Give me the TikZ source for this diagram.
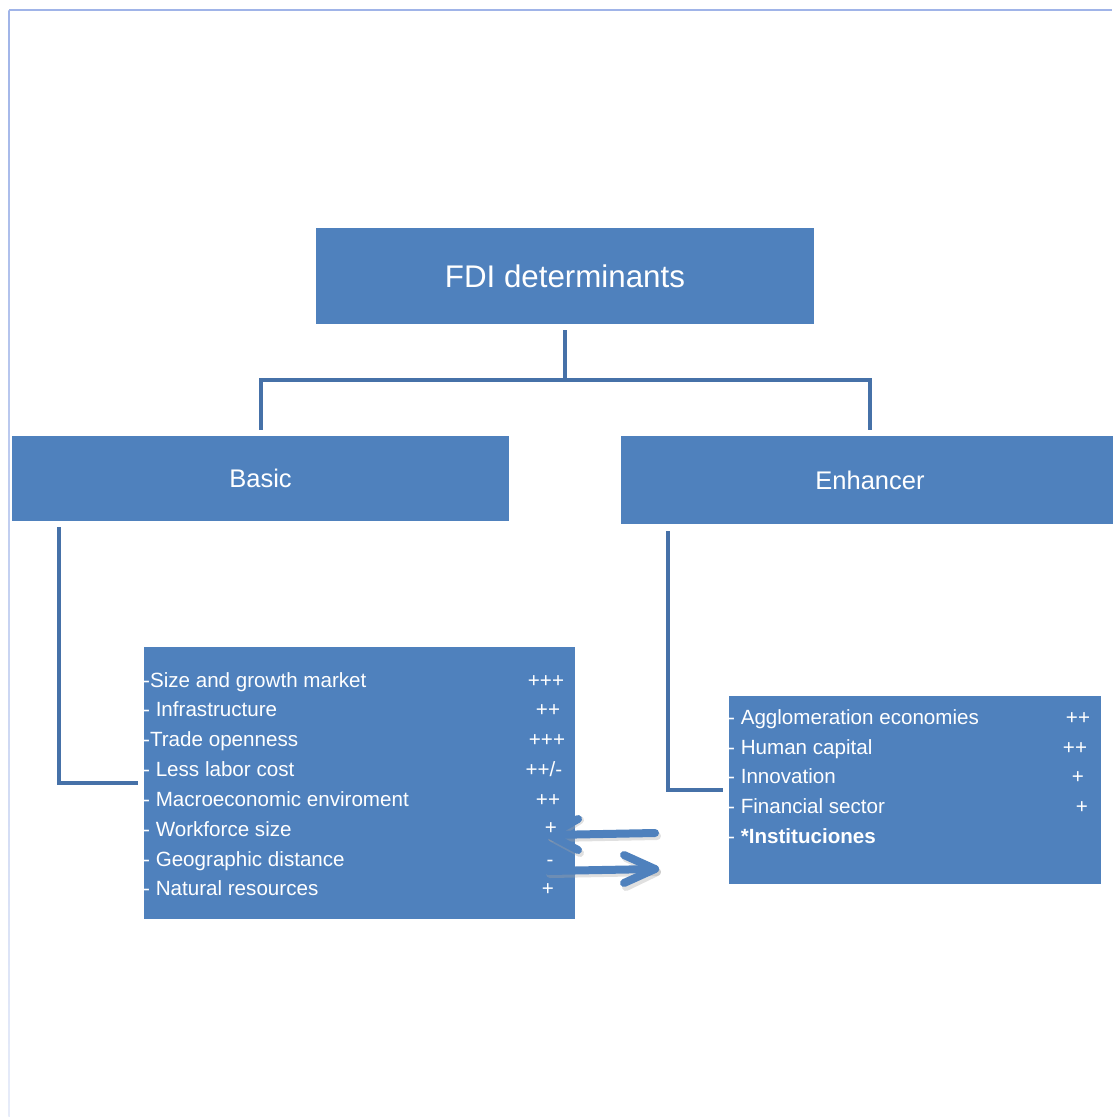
\documentclass[tikz,border=0pt]{standalone}
\usepackage{fontspec}
\setmainfont{Liberation Sans}
\usetikzlibrary{calc}
\definecolor{boxblue}{HTML}{4F81BD}
\definecolor{connblue}{HTML}{4671A8}
\definecolor{framecol}{RGB}{160,180,232}
\tikzset{
  box/.style={fill=boxblue, draw=none, inner sep=0pt, text=white},
  conn/.style={draw=connblue, line width=4pt},
  itemtxt/.style={anchor=base west, inner sep=0pt, text=white, font=\fontsize{20.6}{24}\selectfont},
  signtxt/.style={anchor=base, inner sep=0pt, text=white, font=\fontsize{20.6}{24}\selectfont},
  arrowline/.style={draw=boxblue, line width=8pt, line cap=round, line join=round},
  arrowshadow/.style={draw=black!35, opacity=0.35, line width=8pt, line cap=round, line join=round}
}
\begin{document}
\begin{tikzpicture}[x=1pt,y=-1pt]
\useasboundingbox (0,0) rectangle (1112,1117);
% frame
\draw[framecol, line width=1.5pt] (9,10) -- (1112,10);
\shade[top color=framecol, bottom color=framecol!25] (8.3,10) rectangle (9.8,1117);

% boxes
\node[box, minimum width=498pt, minimum height=96pt, font=\fontsize{31.3}{36}\selectfont] (fdi) at (565,276) {FDI determinants};
\node[box, minimum width=497pt, minimum height=85pt, font=\fontsize{25.5}{30}\selectfont] (basic) at (260.5,478.5) {Basic};
\node[box, minimum width=498pt, minimum height=88pt, font=\fontsize{25.5}{30}\selectfont] (enh) at (870,480) {Enhancer};
\node[box, minimum width=431pt, minimum height=272pt] (left) at (359.5,783) {};
\node[box, minimum width=372pt, minimum height=188pt] (right) at (915,790) {};

% connectors
\draw[conn] ($(fdi.south)+(0,6)$) -- ++(0,50) coordinate (mid) -| ($(basic.north)+(0,-6)$);
\draw[conn] (mid) -| ($(enh.north)+(0,-6)$);
\draw[conn] ($(basic.south west)+(47,6)$) |- ($(left.west)+(-6,0)$);
\draw[conn] ($(enh.south west)+(47,7)$) |- ($(right.west)+(-6,0)$);

% arrows
\coordinate (a1s) at (655,833);
\coordinate (a1e) at (550,835);
\coordinate (a2s) at (548,871);
\coordinate (a2e) at (655,869);
\draw[arrowshadow] ($(a1s)+(2,3)$) -- ($(a1e)+(2,3)$);
\draw[arrowshadow] ($(a1e)+(30,-15)$) -- ($(a1e)+(2,3)$) -- ($(a1e)+(30,18)$);
\draw[arrowshadow] ($(a2s)+(2,3)$) -- ($(a2e)+(2,3)$);
\draw[arrowshadow] ($(a2e)+(-29,-11)$) -- ($(a2e)+(2,3)$) -- ($(a2e)+(-29,18)$);
\draw[arrowline] (a1s) -- (a1e);
\draw[arrowline] ($(a1e)+(28,-16)$) -- (a1e) -- ($(a1e)+(28,15)$);
\draw[arrowline] (a2s) -- (a2e);
\draw[arrowline] ($(a2e)+(-31,-14)$) -- (a2e) -- ($(a2e)+(-31,14)$);

% left list
\node[itemtxt] (l1) at (143,687) {-Size and growth market};
\node[itemtxt] (l2) at (143,716) {- Infrastructure};
\node[itemtxt] (l3) at (143,746) {-Trade openness};
\node[itemtxt] (l4) at (143,776) {- Less labor cost};
\node[itemtxt] (l5) at (143,806) {- Macroeconomic enviroment};
\node[itemtxt] (l6) at (143,836) {- Workforce size};
\node[itemtxt] (l7) at (143,866) {- Geographic distance};
\node[itemtxt] (l8) at (143,895) {- Natural resources};
\node[signtxt] (s1) at (546,687) {+++};
\node[signtxt] (s2) at (548,716) {++};
\node[signtxt] (s3) at (547,746) {+++};
\node[signtxt] (s4) at (544,776) {++/-};
\node[signtxt] (s5) at (548,806) {++};
\node[signtxt] (s6) at (551,834) {+};
\node[signtxt] (s7) at (550,866) {-};
\node[signtxt] (s8) at (548,895) {+};

% right list
\node[itemtxt] (r1) at (728,724) {- Agglomeration economies};
\node[itemtxt] (r2) at (728,754) {- Human capital};
\node[itemtxt] (r3) at (728,783) {- Innovation};
\node[itemtxt] (r4) at (728,813) {- Financial sector};
\node[itemtxt] (r5) at (728,843) {- \textbf{*Instituciones}};
\node[signtxt] (t1) at (1078,724) {++};
\node[signtxt] (t2) at (1075,754) {++};
\node[signtxt] (t3) at (1078,783) {+};
\node[signtxt] (t4) at (1082,813) {+};
\end{tikzpicture}
\end{document}
